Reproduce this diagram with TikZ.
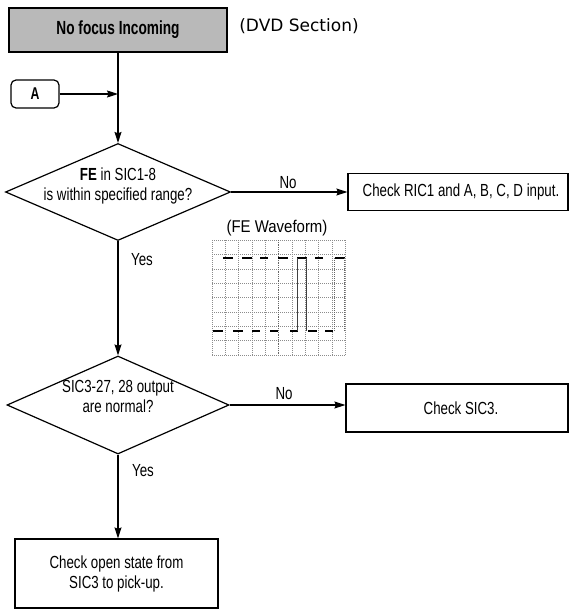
\documentclass[tikz,border=0pt]{standalone}
\usepackage{fontspec}
\setmainfont{Liberation Sans}[FakeStretch=0.76]
\newfontfamily\titlefont{Liberation Sans}[FakeStretch=0.72]
\newfontfamily\dvdfont{DejaVu Sans}
\newfontfamily\capfont{Liberation Sans}[FakeStretch=0.88]
\usetikzlibrary{shapes.geometric,arrows.meta}
\begin{document}
\begin{tikzpicture}[x=1pt,y=-1pt,
  every node/.style={font=\fontsize{17.5}{20}\selectfont, align=center, inner sep=0pt},
  ln/.style={line width=1.2pt},
  arr/.style={ln, -{Stealth[length=11pt,width=7pt,inset=1.5pt]}},
  box/.style={draw, line width=1.2pt},
  dia/.style={draw, diamond, line width=1.2pt},
  grid/.style={black!45, line width=0.4pt, dash pattern=on 0.6pt off 1.4pt},
  wave/.style={line width=2.6pt},
  thin/.style={black!75, line width=0.5pt}
]
\useasboundingbox (0,0) rectangle (574,610);

% title
\node[box, fill=gray!55, minimum width=218pt, minimum height=44pt] (title) at (118,30)
  {\titlefont\bfseries\fontsize{19}{21}\selectfont No focus Incoming};
\node (dvd) at (299,26) {\dvdfont\fontsize{17}{20}\selectfont (DVD Section)};

% A connector
\node[box, rounded corners=5pt, minimum width=48pt, minimum height=28pt] (A) at (35,94)
  {\titlefont\bfseries\fontsize{17}{19}\selectfont A};
\coordinate (ajoin) at (118,94);

% decision 1
\node[dia, minimum width=225pt, minimum height=97pt] (d1) at (118,192) {};
\node (t1) at (118,186) {{\bfseries FE} in SIC1-8\\is within specified range?};
\node[box, minimum width=220pt, minimum height=37pt] (r1) at (458,192)
  {\hspace*{6pt}Check RIC1 and A, B, C, D input.};
\node (no1) at (288,183) {No};
\node (yes1) at (142,260) {Yes};

% waveform
\node (wft) at (277,228) {\capfont\fontsize{17}{19}\selectfont (FE Waveform)};
\foreach \yy in {240,254.4,268.8,283.1,297.5,311.9,326.3,340.6,355}
  \draw[grid] (212,\yy) -- (345,\yy);
\foreach \xx in {212,225.3,238.6,251.9,265.2,291.8,305.1,318.4,331.7,345}
  \draw[grid] (\xx,240) -- (\xx,355);
\draw[black!60, line width=0.6pt, dash pattern=on 1pt off 0.8pt] (278.5,240) -- (278.5,355);
\foreach \a/\b in {223/233,242/252,260/268,278/288,297/307,315/323,335/345}
  \draw[wave] (\a,258) -- (\b,258);
\foreach \a/\b in {213/223,233/243,252/260,270/278,290/298,308/317,325/333}
  \draw[wave] (\a,331) -- (\b,331);
\draw[thin] (297.5,258) -- (297.5,331);
\draw[thin] (306.5,258) -- (306.5,331);
\draw[black!60, line width=0.6pt, dash pattern=on 1pt off 1pt] (334,258) -- (334,331);
\draw[black!60, line width=0.6pt, dash pattern=on 1pt off 1pt] (344,258) -- (344,331);

% decision 2
\node[dia, minimum width=222pt, minimum height=98pt] (d2) at (118,405) {};
\node (t2) at (118,396.5) {SIC3-27, 28 output\\are normal?};
\node[box, minimum width=222pt, minimum height=48pt] (r2) at (457,408) {\hspace*{8pt}Check SIC3.};
\node (no2) at (284,394) {No};
\node (yes2) at (143,471) {Yes};

% final
\node[box, minimum width=203pt, minimum height=69pt] (r3) at (116.5,573.5)
  {Check open state from\\SIC3 to pick-up.};

% connectors
\draw[arr] (title.south) -- (d1.north);
\draw[arr] (A.east) -- (ajoin);
\draw[arr] (d1.east) -- (r1.west);
\draw[arr] (d1.south) -- (d2.north);
\draw[arr] (d2.east) -- (d2.east -| r2.west);
\draw[arr] (d2.south) -- (d2.south |- r3.north);
\end{tikzpicture}
\end{document}
